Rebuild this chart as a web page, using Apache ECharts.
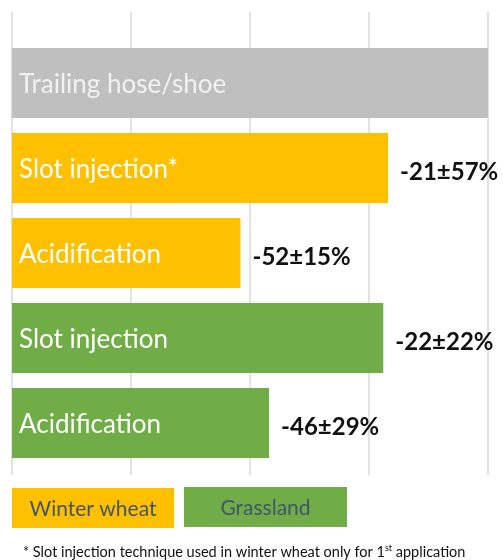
<!DOCTYPE html>
<html><head><meta charset="utf-8">
<script src="https://cdn.jsdelivr.net/npm/echarts@6/dist/echarts.min.js"></script>
<style>html,body{margin:0;padding:0;background:#fff}#c{width:503px;height:560px}</style>
</head><body><div id="c"></div>
<script>
const categories = ['Trailing hose/shoe', 'Slot injection*', 'Acidification', 'Slot injection', 'Acidification'];
const groups = ['Reference', 'Winter wheat', 'Winter wheat', 'Grassland', 'Grassland'];
const values = [100, 79, 48, 78, 54];
const changeLabels = ['', '-21±57%', '-52±15%', '-22±22%', '-46±29%'];
const legendNames = ['Winter wheat', 'Grassland'];
const footnote = ['* Slot injection technique used in winter wheat only for 1', 'st', ' application'];
const xTicks = [0, 25, 50, 75, 100];

const colors = { 'Reference': '#bfbfbf', 'Winter wheat': '#ffc000', 'Grassland': '#70ad47' };
const textColors = { 'Reference': '#f2f2f2', 'Winter wheat': '#ffffff', 'Grassland': '#ffffff' };

const chart = echarts.init(document.getElementById('c'), null, { renderer: 'canvas' });
const font = 'Lato, "Open Sans", sans-serif';

const legendGraphics = [];
const boxes = [{ left: 12, top: 488, w: 162, h: 40 }, { left: 184, top: 487, w: 163, h: 40 }];
legendNames.forEach((n, i) => {
  const b = boxes[i];
  legendGraphics.push({
    type: 'rect', x: b.left, y: b.top, shape: { width: b.w, height: b.h },
    style: { fill: colors[n] }, z: 10
  });
  legendGraphics.push({
    type: 'text', x: b.left + b.w / 2, y: b.top + b.h / 2 + 1, z: 11,
    style: { text: n, fill: '#44546a', font: '21px ' + font, textAlign: 'center', textVerticalAlign: 'middle' }
  });
});

chart.setOption({
  animation: false,
  grid: [
    { left: 12, width: 476, top: 12, height: 463 },
    { left: 12, width: 476, top: 40.5, height: 425 }
  ],
  xAxis: [
    { gridIndex: 0, type: 'value', min: xTicks[0], max: xTicks[xTicks.length - 1], interval: 25,
      axisLine: { show: false }, axisTick: { show: false }, axisLabel: { show: false },
      splitLine: { show: true, lineStyle: { color: '#d9d9d9', width: 1.5 } } },
    { gridIndex: 1, type: 'value', min: xTicks[0], max: xTicks[xTicks.length - 1], show: false }
  ],
  yAxis: [
    { gridIndex: 0, type: 'value', show: false, min: 0, max: 1 },
    { gridIndex: 1, type: 'category', data: categories, inverse: true, show: false }
  ],
  series: [
    { type: 'scatter', xAxisIndex: 0, yAxisIndex: 0, data: [], silent: true },
    {
      type: 'bar', xAxisIndex: 1, yAxisIndex: 1, barWidth: 70,
      data: values.map((v, i) => ({
        value: v,
        itemStyle: { color: colors[groups[i]] },
        label: { color: textColors[groups[i]] }
      })),
      label: {
        show: true, position: 'insideLeft', distance: 7, offset: [0, 2],
        formatter: p => categories[p.dataIndex],
        fontFamily: font, fontSize: 26
      },
      z: 3
    },
    {
      type: 'bar', xAxisIndex: 1, yAxisIndex: 1, barWidth: 70, barGap: '-100%',
      data: values, itemStyle: { color: 'rgba(0,0,0,0)' }, silent: true,
      label: {
        show: true, position: 'right', distance: 12, offset: [0, 4],
        formatter: p => changeLabels[p.dataIndex],
        fontFamily: font, fontSize: 24, fontWeight: 'bold', color: '#111'
      },
      z: 4
    }
  ],
  graphic: legendGraphics.concat([{
    type: 'text', x: 23, y: 552, z: 10,
    style: {
      textVerticalAlign: 'middle',
      rich: {
        a: { fontFamily: font, fontSize: 14.5, fill: '#111' },
        s: { fontFamily: font, fontSize: 9, fill: '#111', verticalAlign: 'top', padding: [0, 0, 8, 0] }
      },
      text: '{a|' + footnote[0] + '}{s|' + footnote[1] + '}{a|' + footnote[2] + '}'
    }
  }])
});
</script>
</body></html>
